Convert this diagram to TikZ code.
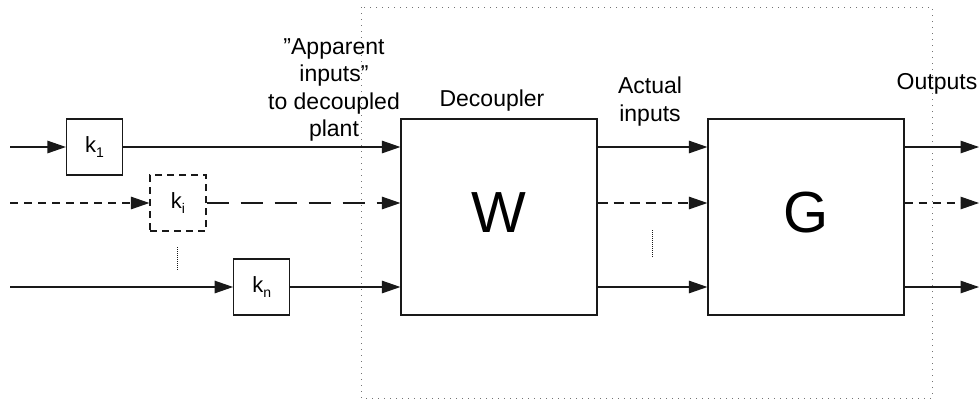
\documentclass[tikz,border=0pt]{standalone}
\usepackage{fontspec}
\setmainfont{Liberation Sans}
\usetikzlibrary{arrows.meta}
\newcommand{\ksub}[1]{{\fontsize{22}{22}\selectfont k}\raisebox{-5pt}{\fontsize{14}{14}\selectfont #1}}
\begin{document}
\begin{tikzpicture}[x=1pt,y=-1pt,
  lineclr/.style={draw=black!90},
  blk/.style={lineclr, line width=1.2pt, fill=white, inner sep=0pt},
  kbox/.style={blk, minimum width=56pt, minimum height=56pt},
  bigbox/.style={blk, minimum width=196pt, minimum height=196pt},
  bigletter/.style={inner sep=0pt, font=\fontsize{58}{58}\selectfont},
  lbl/.style={inner sep=0pt, align=center, font=\fontsize{23}{27.5}\selectfont},
  arr/.style={lineclr, line width=1.2pt, -{Triangle[length=18.5pt,width=12.5pt]}},
  shortdash/.style={dash pattern=on 8pt off 6pt},
  longdash/.style={dash pattern=on 22pt off 12pt},
  middash/.style={dash pattern=on 10pt off 6pt},
  boxdash/.style={dash pattern=on 7pt off 5pt},
  frame/.style={draw=black!55, line width=1pt, dash pattern=on 1pt off 5pt},
  densedots/.style={draw=black!90, line width=1pt, dash pattern=on 1pt off 1pt}]
\useasboundingbox (0,0) rectangle (980,400);

% dotted frame
\draw[frame] (361,7) rectangle (932,398);

% boxes
\node[kbox] (k1) at (94.5,147) {\ksub{1}};
\node[kbox, boxdash] (ki) at (178,203) {\ksub{i}};
\node[kbox] (kn) at (261.7,287) {\ksub{n}};
\node[bigbox] (W) at (499,217) {};
\node[bigbox] (G) at (806,217) {};
\node[bigletter] (Wl) at ([yshift=4pt]W.center) {W};
\node[bigletter] (Gl) at ([yshift=4pt]G.center) {G};

% free ends
\coordinate (in1) at (10,147);
\coordinate (in2) at (10,203);
\coordinate (in3) at (10,287);
\coordinate (o1) at (979,147);
\coordinate (o2) at (979,203);
\coordinate (o3) at (979,287);

% input side
\draw[arr] (in1) -- (k1);
\draw[arr, shortdash] (in2) -- (ki);
\draw[arr] (in3) -- (kn);
\draw[arr] (k1) -- (k1 -| W.west);
\draw[arr, longdash] (ki) -- (ki -| W.west);
\draw[arr] (kn) -- (kn -| W.west);

% between W and G
\draw[arr] (W.east |- k1) -- (G.west |- k1);
\draw[arr, middash] (W.east |- ki) -- (G.west |- ki);
\draw[arr] (W.east |- kn) -- (G.west |- kn);

% outputs
\draw[arr] (G.east |- k1) -- (o1);
\draw[arr, shortdash] (G.east |- ki) -- (o2);
\draw[arr] (G.east |- kn) -- (o3);

% vertical ellipsis dots
\coordinate (d1a) at (177.7,247);
\coordinate (d1b) at (177.7,271);
\draw[densedots] (d1a) -- (d1b);
\coordinate (d2a) at (652.7,230);
\coordinate (d2b) at (652.7,258);
\draw[densedots] (d2a) -- (d2b);

% labels
\node[lbl, anchor=north] (app) at (334,38.2) {”Apparent\\inputs”\\to decoupled\\plant};
\node[lbl, anchor=base] (dec) at (492,106.7) {Decoupler};
\node[lbl, anchor=north] (act) at (650,76.8) {Actual\\inputs};
\node[lbl, anchor=base] (outl) at (937,89.3) {Outputs};
\end{tikzpicture}
\end{document}
